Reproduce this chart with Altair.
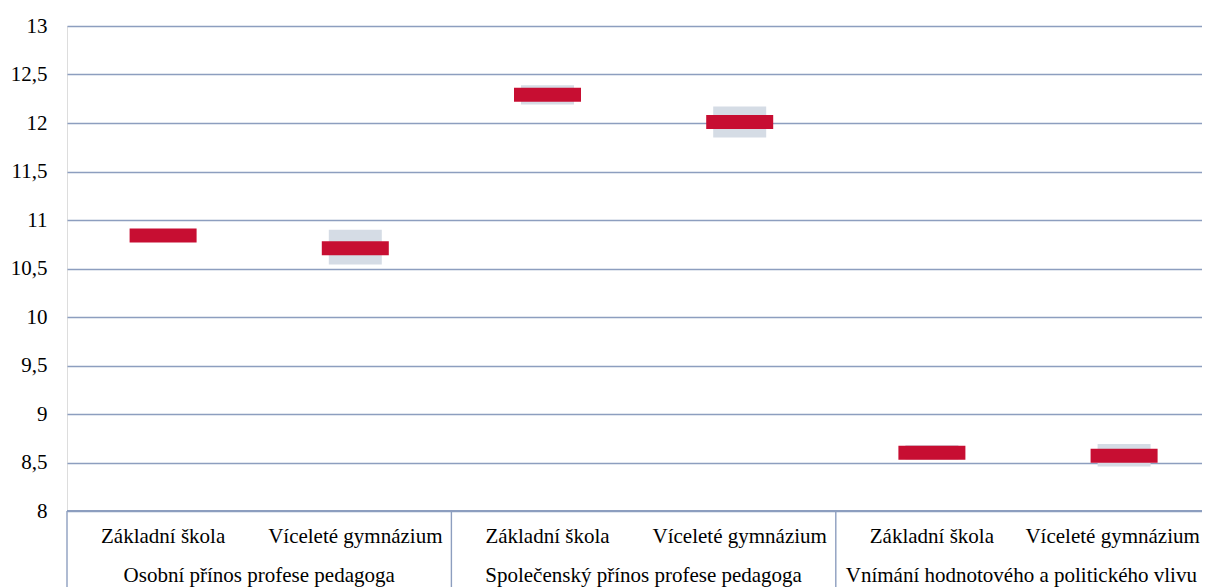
import altair as alt
import pandas as pd

groups = ["Osobní přínos profese pedagoga",
          "Společenský přínos profese pedagoga",
          "Vnímání hodnotového a politického vlivu"]
schools = ["Základní škola", "Víceleté gymnázium"]
means = [10.84, 10.71, 12.29, 12.01, 8.60, 8.57]
ci_low = [10.80, 10.54, 12.19, 11.85, 8.53, 8.46]
ci_high = [10.88, 10.90, 12.39, 12.17, 8.68, 8.69]
y_ticks = [8, 8.5, 9, 9.5, 10, 10.5, 11, 11.5, 12, 12.5, 13]

rows = []
for gi, g in enumerate(groups):
    for si, s in enumerate(schools):
        i = gi * len(schools) + si
        rows.append({"group": g, "school": s, "pos": i + 0.5,
                     "mean": means[i], "lo": ci_low[i], "hi": ci_high[i]})
df = pd.DataFrame(rows)
gdf = pd.DataFrame({"group": groups,
                    "center": [gi * 2 + 1 for gi in range(len(groups))]})
sdf = pd.DataFrame({"b": [gi * 2 for gi in range(len(groups) + 1)]})

FONT = "Liberation Serif"
GRID = "#8D9EBF"
W = 1135
XMAX = W / 192.2
xs = alt.Scale(domain=[0, XMAX], nice=False, zero=False, padding=0)
ys = alt.Scale(domain=[8, 13], nice=False, zero=False, padding=0)

base = alt.Chart(df)
grey = base.mark_bar(width=53, color="#D5DCE5", clip=True).encode(
    x=alt.X("pos:Q", scale=xs, axis=None),
    y=alt.Y("lo:Q", scale=ys, axis=alt.Axis(
        values=y_ticks, labelExpr="replace(format(datum.value, '~g'), '.', ',')",
        grid=True, gridColor=GRID, gridWidth=1.4, domain=False, ticks=False,
        labelFont=FONT, labelFontSize=21, labelColor="black", labelPadding=20,
        title=None)),
    y2="hi:Q",
)
red = base.mark_tick(orient="horizontal", size=67, thickness=14,
                     color="#C70E32", opacity=1, clip=True).encode(
    x=alt.X("pos:Q", scale=xs),
    y=alt.Y("mean:Q", scale=ys),
)
seps = alt.Chart(sdf).mark_rule(color=GRID, strokeWidth=1.4).encode(
    x=alt.X("b:Q", scale=xs),
    y=alt.value(485),
    y2=alt.value(600),
)
bottom = alt.Chart(sdf).mark_rule(color=GRID, strokeWidth=1.4).encode(
    x=alt.value(0), x2=alt.value(W), y=alt.value(485))
# keep the right-most labels fully inside the visible area
cat_labels = base.transform_calculate(
    lx=f"min(datum.pos, {XMAX - 0.465})"
).mark_text(font=FONT, fontSize=21, color="black",
            baseline="alphabetic", align="center").encode(
    x=alt.X("lx:Q", scale=xs),
    y=alt.value(517),
    text="school:N",
)
grp_labels = alt.Chart(gdf).transform_calculate(
    lx=f"min(datum.center, {XMAX - 0.94})"
).mark_text(font=FONT, fontSize=21, color="black",
            baseline="alphabetic", align="center").encode(
    x=alt.X("lx:Q", scale=xs),
    y=alt.value(556),
    text="group:N",
)

chart = alt.layer(grey, red, bottom, seps, cat_labels, grp_labels).properties(
    width=W, height=485,
    autosize=alt.AutoSizeParams(type="none"),
    padding={"left": 59, "top": 18, "right": 0, "bottom": 76},
).configure_view(stroke=None).configure(background="white")

chart.save("out.html", embed_options={"renderer": "svg", "actions": False})
